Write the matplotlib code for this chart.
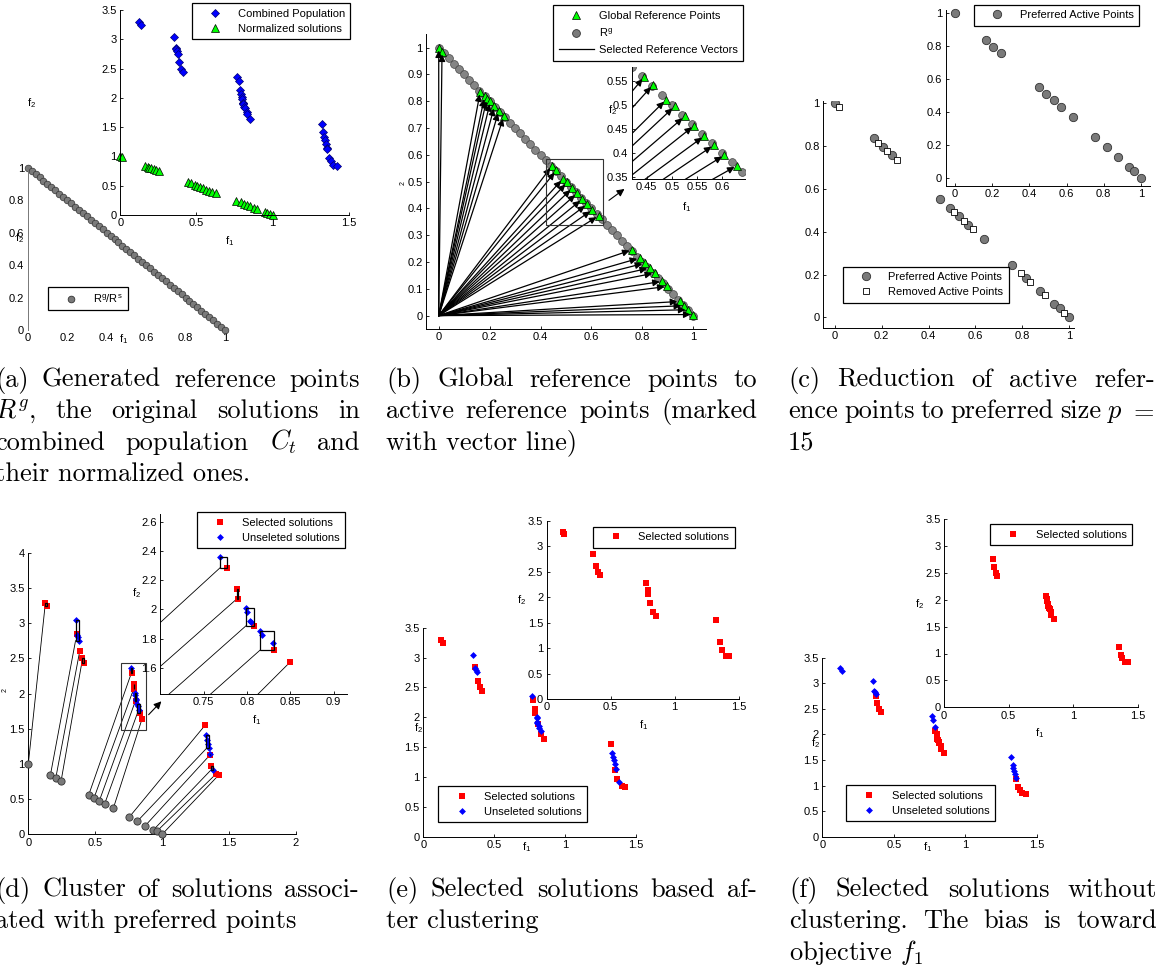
import matplotlib
matplotlib.use("Agg")
import matplotlib.pyplot as plt
from matplotlib.patches import FancyArrowPatch, Rectangle
from matplotlib.lines import Line2D
from matplotlib.ticker import FuncFormatter

W, H = 1158, 968

# generated reference points R^g
rg_f1 = [0.00, 0.02, 0.04, 0.06, 0.08, 0.10, 0.12, 0.14, 0.16, 0.18, 0.20, 0.22, 0.24,
         0.26, 0.28, 0.30, 0.32, 0.34, 0.36, 0.38, 0.40, 0.42, 0.44, 0.46, 0.48, 0.50,
         0.52, 0.54, 0.56, 0.58, 0.60, 0.62, 0.64, 0.66, 0.68, 0.70, 0.72, 0.74, 0.76,
         0.78, 0.80, 0.82, 0.84, 0.86, 0.88, 0.90, 0.92, 0.94, 0.96, 0.98, 1.00]
rg_f2 = [1.00, 0.98, 0.96, 0.94, 0.92, 0.90, 0.88, 0.86, 0.84, 0.82, 0.80, 0.78, 0.76,
         0.74, 0.72, 0.70, 0.68, 0.66, 0.64, 0.62, 0.60, 0.58, 0.56, 0.54, 0.52, 0.50,
         0.48, 0.46, 0.44, 0.42, 0.40, 0.38, 0.36, 0.34, 0.32, 0.30, 0.28, 0.26, 0.24,
         0.22, 0.20, 0.18, 0.16, 0.14, 0.12, 0.10, 0.08, 0.06, 0.04, 0.02, 0.00]

# normalized solutions / global reference points
ref_f1 = [0.0, 0.013, 0.163, 0.18, 0.189, 0.203, 0.219, 0.236, 0.256, 0.445, 0.462, 0.488,
          0.505, 0.525, 0.544, 0.564, 0.583, 0.604, 0.629, 0.76, 0.79, 0.81, 0.829, 0.849,
          0.879, 0.898, 0.948, 0.963, 0.98, 1.0]
ref_f2 = [1.0, 0.985, 0.836, 0.818, 0.81, 0.80, 0.783, 0.765, 0.745, 0.559, 0.542, 0.511,
          0.497, 0.476, 0.457, 0.435, 0.416, 0.395, 0.373, 0.246, 0.215, 0.196, 0.178, 0.159,
          0.128, 0.109, 0.053, 0.037, 0.022, 0.004]

# preferred / removed active points
pref_f1 = [0.0, 0.165, 0.205, 0.245, 0.45, 0.49, 0.53, 0.57, 0.635, 0.755, 0.815, 0.875, 0.935, 0.96, 1.0]
pref_f2 = [1.0, 0.84, 0.797, 0.757, 0.552, 0.511, 0.472, 0.43, 0.368, 0.246, 0.186, 0.125, 0.063, 0.043, 0.0]
rem_f1 = [0.018, 0.182, 0.224, 0.265, 0.509, 0.55, 0.59, 0.795, 0.835, 0.896, 0.977]
rem_f2 = [0.981, 0.816, 0.779, 0.735, 0.491, 0.452, 0.411, 0.209, 0.165, 0.104, 0.022]

# combined population (original objective values)
pop_f1 = [0.125, 0.136, 0.353, 0.364, 0.367, 0.374, 0.376, 0.385, 0.40, 0.414,
          0.769, 0.777, 0.788, 0.790, 0.799, 0.800, 0.803, 0.805, 0.808, 0.815, 0.817,
          0.830, 0.831, 0.850, 1.321, 1.331, 1.336, 1.342, 1.350, 1.357, 1.354, 1.368,
          1.380, 1.399, 1.422]
pop_f2 = [3.29, 3.24, 3.04, 2.85, 2.83, 2.80, 2.75, 2.61, 2.50, 2.44,
          2.36, 2.285, 2.139, 2.07, 2.011, 1.984, 1.92, 1.91, 1.888, 1.85, 1.824,
          1.767, 1.72, 1.64, 1.55, 1.41, 1.34, 1.28, 1.22, 1.14, 1.12, 0.97,
          0.92, 0.85, 0.84]
# preferred point each solution is associated with
cluster = [0, 0, 1, 1, 1, 1, 1, 2, 3, 3,
           4, 4, 5, 5, 6, 6, 6, 6, 6, 7, 7,
           7, 7, 8, 9, 10, 10, 10, 10, 11, 11, 12,
           12, 13, 14]
# selected after clustering (e) and without clustering (f)
sel_clust = [1, 1, 0, 1, 0, 0, 0, 1, 1, 1,
             0, 1, 1, 1, 0, 0, 0, 0, 1, 0, 0,
             0, 1, 1, 1, 0, 0, 0, 0, 0, 1, 1,
             0, 1, 1]
sel_plain = [0, 0, 0, 0, 0, 0, 1, 1, 1, 1,
             0, 0, 0, 1, 1, 1, 1, 1, 1, 1, 1,
             1, 1, 1, 0, 0, 0, 0, 0, 0, 1, 1,
             1, 1, 1]

captions = {
    'a': ["(a) Generated reference points", "$R^g$, the original solutions in",
          "combined population $C_t$ and", "their normalized ones."],
    'b': ["(b) Global reference points to", "active reference points (marked",
          "with vector line)"],
    'c': ["(c) Reduction of active refer-", "ence points to preferred size $p$ $=$", "15"],
    'd': ["(d) Cluster of solutions associ-", "ated with preferred points"],
    'e': ["(e) Selected solutions based af-", "ter clustering"],
    'f': ["(f) Selected solutions without", "clustering. The bias is toward",
          "objective $f_1$"],
}

plt.rcParams['font.family'] = ['Liberation Sans', 'DejaVu Sans']
plt.rcParams['mathtext.fontset'] = 'cm'
plt.rcParams['font.size'] = 8

GREY = '#7a7a7a'
fig = plt.figure(figsize=(W / 100, H / 100), dpi=100)


def box(x0, y0, x1, y1):
    ax = fig.add_axes([x0 / W, 1 - y1 / H, (x1 - x0) / W, (y1 - y0) / H])
    ax.set_facecolor('none')
    return ax


def style(ax, xlim, ylim, xt, yt, bottom=True, left_color='k', ticklen=2.5):
    ax.set_xlim(xlim)
    ax.set_ylim(ylim)
    ax.set_xticks(xt)
    ax.set_yticks(yt)
    fmt = FuncFormatter(lambda v, p: '%g' % round(v, 3))
    ax.xaxis.set_major_formatter(fmt)
    ax.yaxis.set_major_formatter(fmt)
    ax.spines['top'].set_visible(False)
    ax.spines['right'].set_visible(False)
    ax.spines['bottom'].set_visible(bottom)
    ax.spines['left'].set_color(left_color)
    for s in ax.spines.values():
        s.set_linewidth(0.7)
    ax.tick_params(direction='in', length=ticklen, width=0.6, labelsize=8, pad=2.5)


def legend(ax, handles, labels, x0, y0, spacing=0.45):
    leg = ax.legend(handles, labels, loc='upper left', bbox_to_anchor=(x0 / W, 1 - y0 / H),
                    bbox_transform=fig.transFigure, fancybox=False, edgecolor='k',
                    framealpha=1, borderpad=0.5, handlelength=3.2, handletextpad=0.4,
                    labelspacing=spacing, borderaxespad=0, fontsize=8, numpoints=1)
    leg.get_frame().set_linewidth(0.9)
    return leg


def label(x, y, s, rot=0):
    fig.text(x / W, 1 - y / H, s, ha='center', va='center', fontsize=8, rotation=rot)


def arrow(x0, y0, x1, y1):
    fig.add_artist(FancyArrowPatch((x0 / W, 1 - y0 / H), (x1 / W, 1 - y1 / H),
                                   transform=fig.transFigure, arrowstyle='-|>',
                                   mutation_scale=11, lw=0.8, color='k'))


def h_grey(ms):
    return Line2D([], [], ls='none', marker='o', ms=ms, mfc=GREY, mec='#333333', mew=0.6)


h_blue = Line2D([], [], ls='none', marker='D', ms=3.9, mfc='#0000ff', mec='#000070', mew=0.5)
h_green = Line2D([], [], ls='none', marker='^', ms=6, mfc='#00ff00', mec='k', mew=0.5)
h_red = Line2D([], [], ls='none', marker='s', ms=4.8, mfc='#ff0000', mec='#ff0000', mew=0)
h_blue2 = Line2D([], [], ls='none', marker='D', ms=3.5, mfc='#0000ff', mec='#0000ff', mew=0)
h_white = Line2D([], [], ls='none', marker='s', ms=4.5, mfc='white', mec='k', mew=0.6)

# ---------- (a) ----------
ax = box(27.7, 167.7, 225, 330)
style(ax, (0, 1), (0, 1), [0, 0.2, 0.4, 0.6, 0.8, 1], [0, 0.2, 0.4, 0.6, 0.8, 1],
      bottom=False, left_color='#777777', ticklen=0)
ax.plot(rg_f1, rg_f2, ls='none', marker='o', ms=4.8, mfc=GREY, mec='#333333', mew=0.5, clip_on=False)
legend(ax, [h_grey(4.8)], [r'$\mathregular{R^g/R^s}$'], 47.7, 286.7)
label(20, 238, r'$\mathregular{f_2}$')
label(124, 339, r'$\mathregular{f_1}$')

ax = box(120.3, 10, 348.8, 215)
style(ax, (0, 1.5), (0, 3.5), [0, 0.5, 1, 1.5], [0, 0.5, 1, 1.5, 2, 2.5, 3, 3.5])
ax.plot(pop_f1, pop_f2, ls='none', marker='D', ms=3.9, mfc='#0000ff', mec='#000070', mew=0.5, clip_on=False)
ax.plot(ref_f1, ref_f2, ls='none', marker='^', ms=6, mfc='#00ff00', mec='k', mew=0.5, clip_on=False)
legend(ax, [h_blue, h_green], ['Combined Population', 'Normalized solutions'], 192, 3)
label(32, 103, r'$\mathregular{f_2}$')
label(230, 241, r'$\mathregular{f_1}$')

# ---------- (b) ----------
def draw_refs(ax):
    ax.plot(rg_f1, rg_f2, ls='none', marker='o', ms=5.6, mfc='#858585', mec='#444444', mew=0.5, zorder=2)
    ax.plot(ref_f1, ref_f2, ls='none', marker='^', ms=6, mfc='#00ff00', mec='k', mew=0.5, zorder=3)
    for x, y in zip(ref_f1, ref_f2):
        ax.add_patch(FancyArrowPatch((0, 0), (x, y), arrowstyle='-|>', mutation_scale=10,
                                     lw=0.9, color='k', shrinkA=0, shrinkB=2, zorder=4))


ax = box(426, 34.3, 706, 329)
style(ax, (-0.05, 1.05), (-0.05, 1.05), [0, 0.2, 0.4, 0.6, 0.8, 1],
      [0, 0.1, 0.2, 0.3, 0.4, 0.5, 0.6, 0.7, 0.8, 0.9, 1])
draw_refs(ax)
ax.add_patch(Rectangle((0.42, 0.34), 0.225, 0.245, fill=False, lw=0.8, ec='#333333', zorder=5))
legend(ax, [h_green, h_grey(5.6), Line2D([], [], color='k', lw=0.9)],
       ['Global Reference Points', r'$\mathregular{R^g}$', 'Selected Reference Vectors'],
       553, 5, spacing=0.55)
fig.text(403 / W, 1 - 183 / H, '2', fontsize=5, rotation=90, ha='center', va='center')

ax = box(631.7, 66.8, 745, 179)
style(ax, (0.42, 0.645), (0.345, 0.58), [0.45, 0.5, 0.55, 0.6], [0.35, 0.4, 0.45, 0.5, 0.55])
draw_refs(ax)
label(613, 110, r'$\mathregular{f_2}$')
label(687, 207, r'$\mathregular{f_1}$')
arrow(606.7, 202, 626.7, 187.3)

# ---------- (c) ----------
ax = box(823.3, 101.2, 1073.7, 328)
style(ax, (-0.05, 1.02), (-0.05, 1.01), [0, 0.2, 0.4, 0.6, 0.8, 1], [0, 0.2, 0.4, 0.6, 0.8, 1])
ax.plot(pref_f1, pref_f2, ls='none', marker='o', ms=6, mfc=GREY, mec='#333333', mew=0.6)
ax.plot(rem_f1, rem_f2, ls='none', marker='s', ms=4.5, mfc='white', mec='k', mew=0.6)
legend(ax, [h_grey(6), h_white], ['Preferred Active Points', 'Removed Active Points'], 842.7, 266.7)

ax = box(945.7, 10, 1150.3, 186)
style(ax, (-0.05, 1.05), (-0.05, 1.02), [0, 0.2, 0.4, 0.6, 0.8, 1], [0, 0.2, 0.4, 0.6, 0.8, 1])
ax.plot(pref_f1, pref_f2, ls='none', marker='o', ms=6, mfc=GREY, mec='#333333', mew=0.6, clip_on=False)
legend(ax, [h_grey(6)], ['Preferred Active Points'], 974, 4.7)


# ---------- (d) ----------
def draw_sel(ax, sel, unsel=True, clip=True):
    rx = [pop_f1[i] for i in range(len(sel)) if sel[i]]
    ry = [pop_f2[i] for i in range(len(sel)) if sel[i]]
    ax.plot(rx, ry, ls='none', marker='s', ms=4.8, mfc='#ff0000', mec='#ff0000', mew=0, zorder=2,
            clip_on=clip)
    if unsel:
        bx = [pop_f1[i] for i in range(len(sel)) if not sel[i]]
        by = [pop_f2[i] for i in range(len(sel)) if not sel[i]]
        ax.plot(bx, by, ls='none', marker='D', ms=3.5, mfc='#0000ff', mec='#0000ff', mew=0, zorder=3,
                clip_on=clip)


def draw_clusters(ax, circles=True):
    for c in range(len(pref_f1)):
        xs = [pop_f1[i] for i in range(len(pop_f1)) if cluster[i] == c]
        ys = [pop_f2[i] for i in range(len(pop_f2)) if cluster[i] == c]
        ax.plot([pref_f1[c], min(xs)], [pref_f2[c], min(ys)], color='k', lw=0.6, zorder=1)
        ax.add_patch(Rectangle((min(xs), min(ys)), max(xs) - min(xs), max(ys) - min(ys),
                               fill=False, lw=0.9, ec='k', zorder=4))
    if circles:
        ax.plot(pref_f1, pref_f2, ls='none', marker='o', ms=5.2, mfc=GREY, mec='#333333', mew=0.6,
                zorder=5, clip_on=False)
    draw_sel(ax, sel_clust)


ax = box(28.3, 552.7, 296, 834.3)
style(ax, (0, 2), (0, 4), [0, 0.5, 1, 1.5, 2], [0, 0.5, 1, 1.5, 2, 2.5, 3, 3.5, 4])
draw_clusters(ax)
ax.add_patch(Rectangle((0.69, 1.48), 0.19, 0.96, fill=False, lw=0.8, ec='#333333', zorder=6))
fig.text(5 / W, 1 - 690 / H, '2', fontsize=5, rotation=90, ha='center', va='center')

ax = box(160.4, 514.4, 346.6, 694)
style(ax, (0.70, 0.915), (1.42, 2.65), [0.75, 0.8, 0.85, 0.9], [1.6, 1.8, 2, 2.2, 2.4, 2.6])
draw_clusters(ax, circles=False)
legend(ax, [h_red, h_blue2], ['Selected solutions', 'Unseleted solutions'], 196.7, 512.3)
label(136.7, 593.3, r'$\mathregular{f_2}$')
label(256.7, 720, r'$\mathregular{f_1}$')
arrow(146.7, 716.7, 163.3, 699.3)

# ---------- (e) ----------
ax = box(423.3, 627.7, 636, 836.7)
style(ax, (0, 1.5), (0, 3.5), [0, 0.5, 1, 1.5], [0, 0.5, 1, 1.5, 2, 2.5, 3, 3.5])
draw_sel(ax, sel_clust, clip=False)
legend(ax, [h_red, h_blue2], ['Selected solutions', 'Unseleted solutions'], 438.3, 786)
label(418.3, 728.3, r'$\mathregular{f_2}$')
label(526.7, 846.7, r'$\mathregular{f_1}$')

ax = box(546.7, 521, 738.7, 699)
style(ax, (0, 1.5), (0, 3.5), [0, 0.5, 1, 1.5], [0, 0.5, 1, 1.5, 2, 2.5, 3, 3.5])
draw_sel(ax, sel_clust, unsel=False, clip=False)
legend(ax, [h_red], ['Selected solutions'], 592.7, 526.7)
label(521.7, 600, r'$\mathregular{f_2}$')
label(643.3, 725, r'$\mathregular{f_1}$')

# ---------- (f) ----------
ax = box(822.3, 657.7, 1036.7, 836.7)
style(ax, (0, 1.5), (0, 3.5), [0, 0.5, 1, 1.5], [0, 0.5, 1, 1.5, 2, 2.5, 3, 3.5])
draw_sel(ax, sel_plain, clip=False)
legend(ax, [h_red, h_blue2], ['Selected solutions', 'Unseleted solutions'], 846, 785)
label(816, 743.3, r'$\mathregular{f_2}$')
label(927.3, 846.7, r'$\mathregular{f_1}$')

ax = box(944, 519, 1137.7, 707.3)
style(ax, (0, 1.5), (0, 3.5), [0, 0.5, 1, 1.5], [0, 0.5, 1, 1.5, 2, 2.5, 3, 3.5])
draw_sel(ax, sel_plain, unsel=False, clip=False)
legend(ax, [h_red], ['Selected solutions'], 990, 524.3)
label(920, 604, r'$\mathregular{f_2}$')
label(1040, 733.3, r'$\mathregular{f_1}$')

# ---------- captions (justified like LaTeX) ----------
CAP = dict(fontsize=19, family='cmr10', va='baseline', ha='left')
GAP = 31.5
rend = fig.canvas.get_renderer()


def caption(x0, x1, y0, lines):
    for i, line in enumerate(lines):
        y = 1 - (y0 + i * GAP) / H
        if i == len(lines) - 1:
            fig.text(x0 / W, y, line, **CAP)
            continue
        words = line.split(' ')
        texts = [fig.text(0, y, w, **CAP) for w in words]
        widths = [t.get_window_extent(rend).width for t in texts]
        gap = (x1 - x0 - sum(widths)) / (len(words) - 1)
        x = x0
        for t, wd in zip(texts, widths):
            t.set_x(x / W)
            x += wd + gap


caption(-5, 360, 386.7, captions['a'])
caption(386, 757, 386.7, captions['b'])
caption(788, 1155, 386.7, captions['c'])
caption(-5, 359, 896.7, captions['d'])
caption(386, 757, 896.7, captions['e'])
caption(789, 1157, 896.7, captions['f'])

fig.savefig('out.png', dpi=100)
